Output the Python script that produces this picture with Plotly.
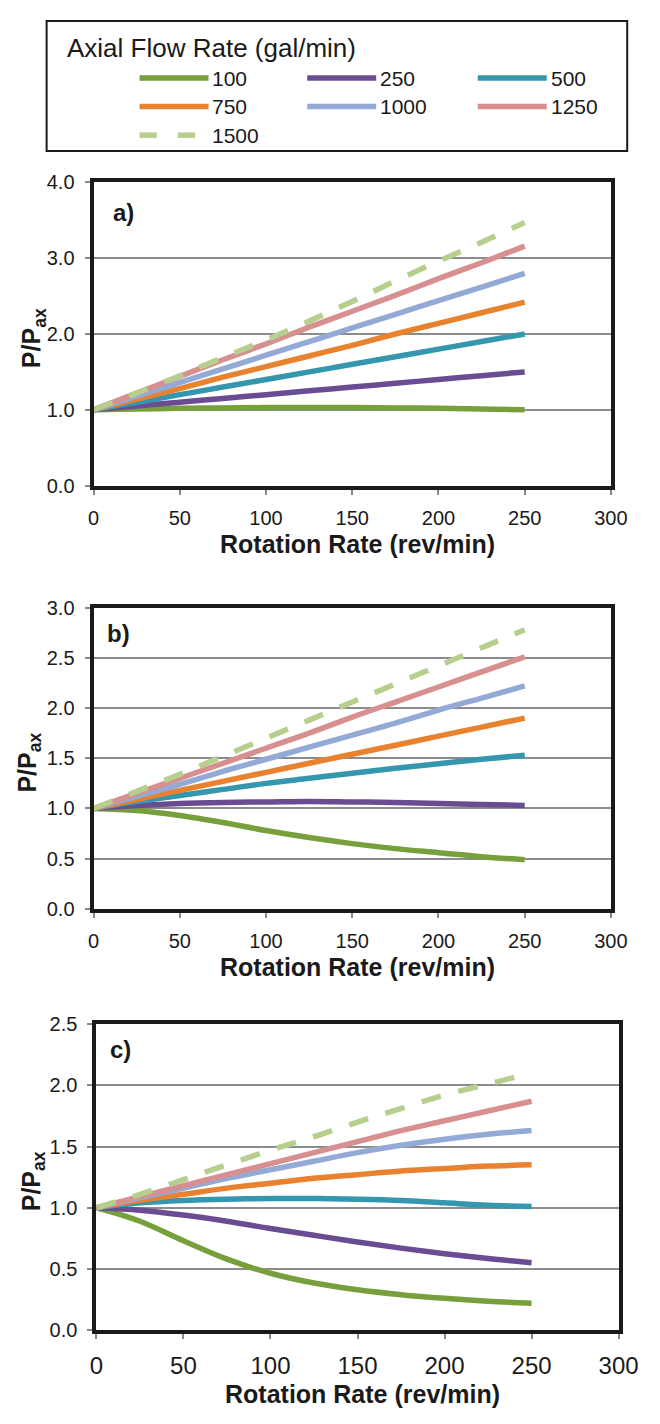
import plotly.graph_objects as go

# The page body has an 8px default margin, so the figure is 16px smaller
# than the window and all pixel positions below are window pixels.
OFF = 8
W, H = 660 - 2 * OFF, 1424 - 2 * OFF

rpm = [0, 25, 50, 75, 100, 125, 150, 175, 200, 225, 250]
flow_labels = ["100", "250", "500", "750", "1000", "1250", "1500"]
colors = ["#77a03c", "#6a4c93", "#3597ae", "#e8822f", "#93aad6", "#d88f90", "#b6cf8e"]

# Panel a)
a_100 = [1.00, 1.01, 1.02, 1.025, 1.03, 1.03, 1.03, 1.025, 1.02, 1.01, 1.00]
a_250 = [1.00, 1.05, 1.10, 1.15, 1.20, 1.25, 1.30, 1.35, 1.40, 1.45, 1.50]
a_500 = [1.00, 1.10, 1.20, 1.30, 1.40, 1.50, 1.60, 1.70, 1.80, 1.90, 2.00]
a_750 = [1.00, 1.14, 1.28, 1.43, 1.57, 1.71, 1.85, 2.00, 2.14, 2.28, 2.42]
a_1000 = [1.00, 1.18, 1.36, 1.54, 1.72, 1.90, 2.08, 2.26, 2.44, 2.62, 2.80]
a_1250 = [1.00, 1.22, 1.44, 1.66, 1.87, 2.09, 2.30, 2.51, 2.73, 2.94, 3.16]
a_1500 = [1.00, 1.22, 1.45, 1.69, 1.92, 2.17, 2.43, 2.70, 2.96, 3.21, 3.47]

# Panel b)
b_100 = [1.00, 0.98, 0.93, 0.86, 0.78, 0.71, 0.65, 0.60, 0.56, 0.52, 0.49]
b_250 = [1.00, 1.03, 1.05, 1.06, 1.065, 1.07, 1.065, 1.06, 1.05, 1.04, 1.03]
b_500 = [1.00, 1.07, 1.13, 1.19, 1.25, 1.30, 1.35, 1.40, 1.445, 1.49, 1.53]
b_750 = [1.00, 1.09, 1.18, 1.27, 1.36, 1.45, 1.54, 1.63, 1.72, 1.81, 1.90]
b_1000 = [1.00, 1.12, 1.24, 1.37, 1.49, 1.61, 1.73, 1.85, 1.98, 2.10, 2.22]
b_1250 = [1.00, 1.15, 1.30, 1.45, 1.60, 1.75, 1.91, 2.06, 2.21, 2.36, 2.51]
b_1500 = [1.00, 1.17, 1.34, 1.52, 1.70, 1.88, 2.06, 2.24, 2.42, 2.60, 2.78]

# Panel c)
c_100 = [1.00, 0.89, 0.73, 0.58, 0.465, 0.385, 0.33, 0.29, 0.26, 0.237, 0.22]
c_250 = [1.00, 0.98, 0.94, 0.89, 0.83, 0.775, 0.72, 0.67, 0.625, 0.585, 0.55]
c_500 = [1.00, 1.04, 1.06, 1.07, 1.075, 1.075, 1.07, 1.06, 1.04, 1.02, 1.01]
c_750 = [1.00, 1.06, 1.11, 1.16, 1.20, 1.24, 1.27, 1.30, 1.32, 1.34, 1.35]
c_1000 = [1.00, 1.08, 1.16, 1.24, 1.31, 1.38, 1.45, 1.51, 1.56, 1.60, 1.63]
c_1250 = [1.00, 1.09, 1.18, 1.27, 1.36, 1.45, 1.54, 1.63, 1.71, 1.79, 1.87]
c_1500 = [1.00, 1.11, 1.23, 1.35, 1.47, 1.58, 1.70, 1.81, 1.92, 2.01, 2.10]

panels = [
    ("a)", [a_100, a_250, a_500, a_750, a_1000, a_1250, a_1500], 4.0, 1.0),
    ("b)", [b_100, b_250, b_500, b_750, b_1000, b_1250, b_1500], 3.0, 0.5),
    ("c)", [c_100, c_250, c_500, c_750, c_1000, c_1250, c_1500], 2.5, 0.5),
]

# window-pixel boxes (left, right, top, bottom)
boxes = [(90, 630, 174, 482), (90, 630, 606, 912), (93, 638, 1029, 1340)]
xtick_sizes = [20, 20, 24]
xtitle_y = [541, 971, 1405]
ytitle_x = [27, 23, 27]
label_pos = [(108, 205), (102, 632), (105, 1055)]

FONT = "Liberation Sans, Arial, sans-serif"


def px(x):
    return (x - OFF) / W


def py(y):
    return 1 - (y - OFF) / H


fig = go.Figure()
annotations = []
shapes = []

for i, (lab, series, ymax, dy) in enumerate(panels):
    n = "" if i == 0 else str(i + 1)
    xa, ya = "x" + n, "y" + n
    for s, vals in enumerate(series):
        fig.add_trace(go.Scatter(
            x=rpm, y=vals, mode="lines", name=flow_labels[s], showlegend=False,
            line=dict(color=colors[s], width=5.5, shape="spline", smoothing=1.0,
                      dash="20px,18px" if s == 6 else "solid"),
            xaxis=xa, yaxis=ya, hoverinfo="skip"))
    l, r, t, b = boxes[i]
    fig.layout["xaxis" + n] = dict(
        domain=[px(l), px(r)], anchor=ya, range=[0, 300], tick0=0, dtick=50,
        showgrid=False, zeroline=False, showline=True, mirror=True,
        linecolor="#1a1a1a", linewidth=4, ticks="outside", ticklen=5,
        tickcolor="#888888", tickwidth=1.5,
        tickfont=dict(family=FONT, size=xtick_sizes[i], color="#1a1a1a"),
        ticklabelstandoff=6)
    fig.layout["yaxis" + n] = dict(
        domain=[py(b), py(t)], anchor=xa, range=[0, ymax], tick0=0, dtick=dy,
        tickformat=".1f", showgrid=True, gridcolor="#8c8c8c", gridwidth=1.5,
        zeroline=False, showline=True, mirror=True,
        linecolor="#1a1a1a", linewidth=4, ticks="outside", ticklen=5,
        tickcolor="#888888", tickwidth=1.5,
        tickfont=dict(family=FONT, size=20, color="#1a1a1a"),
        ticklabelstandoff=6)
    annotations.append(dict(
        text="<b>Rotation Rate (rev/min)</b>", xref="paper", yref="paper",
        x=px((l + r) / 2 + 5), y=py(xtitle_y[i]), showarrow=False,
        xanchor="center", yanchor="middle",
        font=dict(family=FONT, size=25, color="#1a1a1a")))
    annotations.append(dict(
        text="<b>P/P<sub>ax</sub></b>", xref="paper", yref="paper",
        x=px(ytitle_x[i]), y=py((t + b) / 2 + 4), showarrow=False, textangle=-90,
        xanchor="center", yanchor="middle",
        font=dict(family=FONT, size=25, color="#1a1a1a")))
    annotations.append(dict(
        text="<b>" + lab + "</b>", xref="paper", yref="paper",
        x=px(label_pos[i][0]), y=py(label_pos[i][1]), showarrow=False,
        xanchor="left", yanchor="middle",
        font=dict(family=FONT, size=24, color="#1a1a1a")))

# Legend box at the top
shapes.append(dict(type="rect", xref="paper", yref="paper",
                   x0=px(41), x1=px(647), y0=py(142), y1=py(10),
                   line=dict(color="#1a1a1a", width=2), fillcolor="white", layer="below"))
annotations.append(dict(
    text="Axial Flow Rate (gal/min)", xref="paper", yref="paper",
    x=px(60), y=py(37), showarrow=False, xanchor="left", yanchor="middle",
    font=dict(family=FONT, size=26, color="#1a1a1a")))
col_x = [138, 313, 491]
row_y = [68, 97, 126]
for s, lab in enumerate(flow_labels):
    r_, c_ = divmod(s, 3)
    x0, yy = col_x[c_], row_y[r_]
    if s == 6:
        for seg in [(x0, x0 + 18), (x0 + 40, x0 + 58)]:
            shapes.append(dict(type="line", xref="paper", yref="paper",
                               x0=px(seg[0]), x1=px(seg[1]), y0=py(yy), y1=py(yy),
                               line=dict(color=colors[s], width=5.5)))
    else:
        shapes.append(dict(type="line", xref="paper", yref="paper",
                           x0=px(x0), x1=px(x0 + 72), y0=py(yy), y1=py(yy),
                           line=dict(color=colors[s], width=5.5)))
    annotations.append(dict(
        text=lab, xref="paper", yref="paper", x=px(x0 + 74), y=py(yy),
        showarrow=False, xanchor="left", yanchor="middle",
        font=dict(family=FONT, size=21, color="#1a1a1a")))

fig.update_layout(
    width=W, height=H, margin=dict(l=0, r=0, t=0, b=0),
    paper_bgcolor="white", plot_bgcolor="white",
    annotations=annotations, shapes=shapes, showlegend=False)

fig.write_html("out.html")
